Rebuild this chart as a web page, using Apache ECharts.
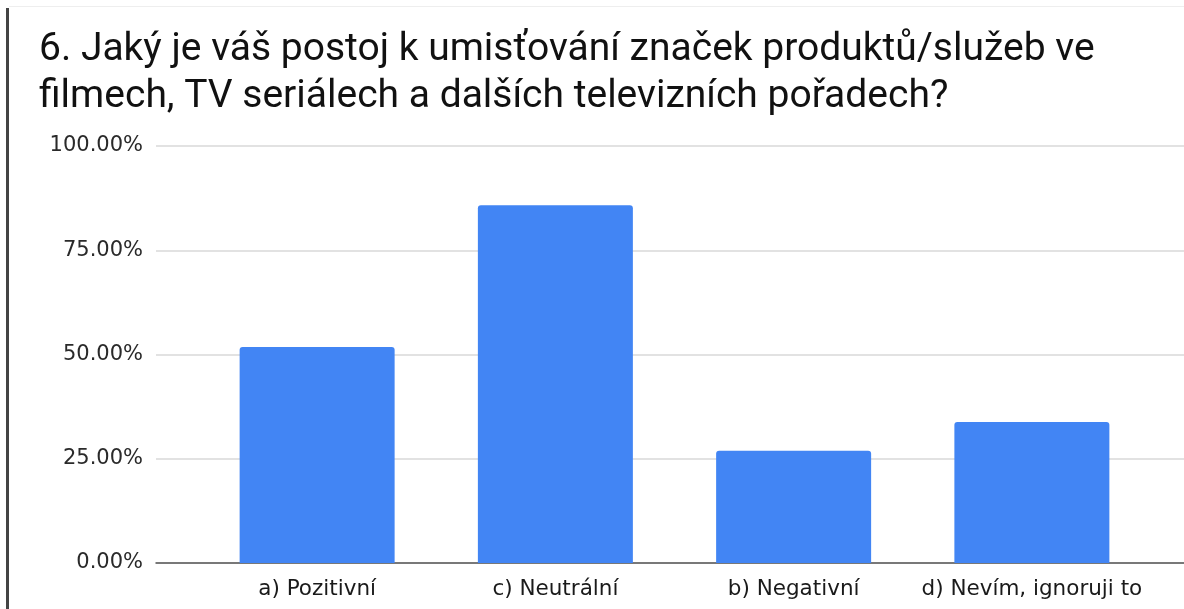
<!DOCTYPE html>
<html>
<head>
<meta charset="utf-8">
<script src="https://cdn.jsdelivr.net/npm/echarts@6/dist/echarts.min.js"></script>
<style>
  html, body { margin: 0; padding: 0; background: #fff; }
  #chart { width: 1184px; height: 609px; }
</style>
</head>
<body>
<div id="chart"></div>
<script>
// data
var categories = ['a) Pozitivní', 'c) Neutrální', 'b) Negativní', 'd) Nevím, ignoruji to'];
var shares = [0.518, 0.858, 0.269, 0.338];
var yTicks = [0, 0.25, 0.5, 0.75, 1];

var titleText = '6. Jaký je váš postoj k umisťování značek produktů/služeb ve\nfilmech, TV seriálech a dalších televizních pořadech?';

var myChart = echarts.init(document.getElementById('chart'), null, { renderer: 'canvas' });

var option = {
    backgroundColor: '#fff',
    animation: false,
    title: {
        text: titleText,
        left: 34,
        top: 22,
        textStyle: {
            fontFamily: 'Roboto',
            fontSize: 39,
            fontWeight: 'normal',
            color: '#111',
            lineHeight: 47
        }
    },
    graphic: [
        // left page border
        { type: 'rect', shape: { x: 6, y: 8, width: 3, height: 601 }, style: { fill: '#444' } },
        // faint top rule
        { type: 'rect', shape: { x: 9, y: 6, width: 1175, height: 1 }, style: { fill: '#eee' } }
    ],
    grid: [
        // axis + gridlines grid
        { left: 156, right: 0, top: 146, bottom: 46 },
        // bars grid
        { left: 198, right: 33, top: 146, bottom: 46 }
    ],
    xAxis: [
        {
            gridIndex: 0, type: 'category', data: [''],
            axisLine: { show: true, lineStyle: { color: '#555', width: 1.5 } },
            axisTick: { show: false }, axisLabel: { show: false }
        },
        {
            gridIndex: 1, type: 'category', data: categories,
            axisLine: { show: false }, axisTick: { show: false },
            axisLabel: {
                interval: 0,
                hideOverlap: false,
                margin: 15,
                fontFamily: 'DejaVu Sans',
                fontSize: 21.5,
                color: '#1a1a1a'
            }
        }
    ],
    yAxis: [
        {
            gridIndex: 0, type: 'value', min: 0, max: 1, interval: 0.25,
            axisLine: { show: false }, axisTick: { show: false },
            axisLabel: {
                margin: 13,
                fontFamily: 'DejaVu Sans',
                fontSize: 21,
                color: '#2a2a2a',
                formatter: function (v) { return (v * 100).toFixed(2) + '%'; }
            },
            splitLine: { lineStyle: { color: '#d9d9d9', width: 1.5 } }
        },
        {
            gridIndex: 1, type: 'value', min: 0, max: 1, interval: 0.25,
            show: false
        }
    ],
    series: [
        {
            type: 'bar',
            xAxisIndex: 1,
            yAxisIndex: 1,
            data: shares,
            barWidth: 155,
            itemStyle: { color: '#4285F4', borderRadius: [3, 3, 0, 0] },
            z: 3
        }
    ]
};
myChart.setOption(option);
</script>
</body>
</html>
